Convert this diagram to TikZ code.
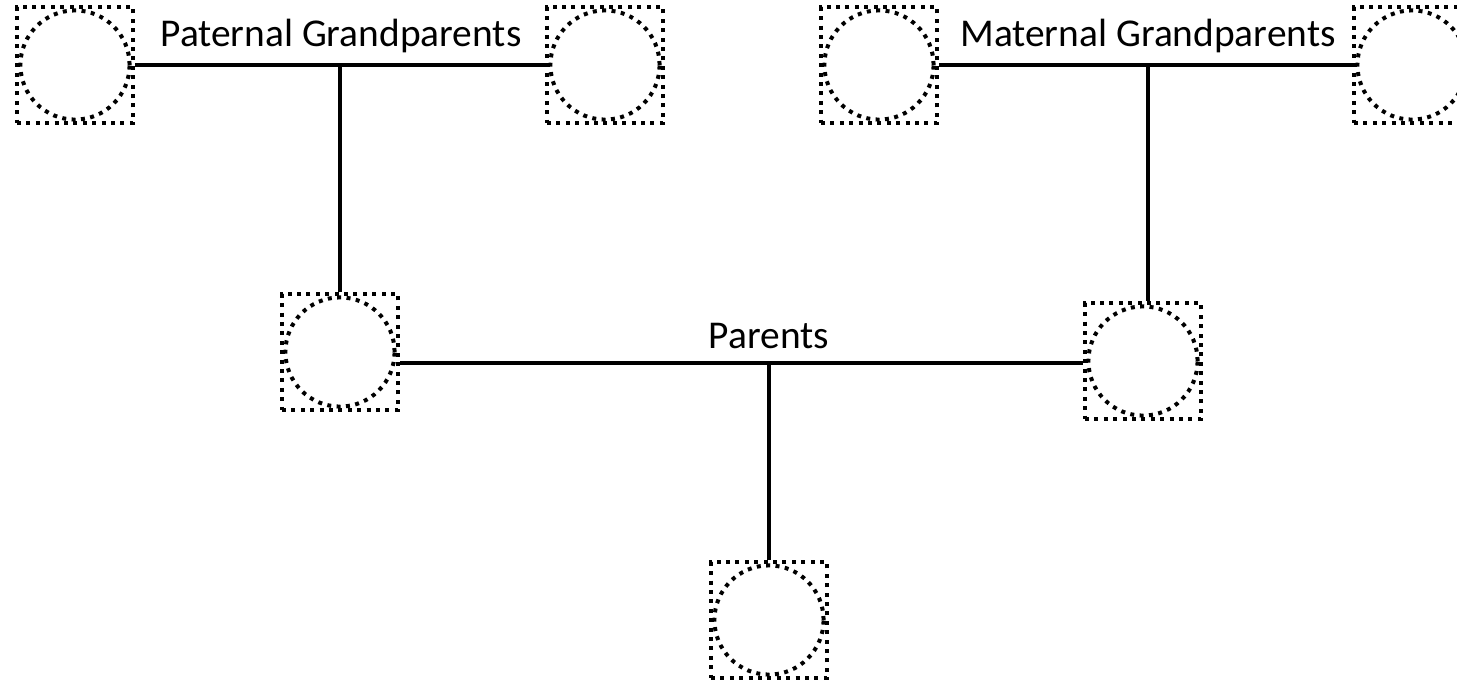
\documentclass[tikz,border=0pt]{standalone}
\usepackage{fontspec}
\setmainfont{Carlito}
\tikzset{
  person/.style={draw, line width=2pt, dash pattern=on 2pt off 2.7pt,
    minimum size=58pt, inner sep=0pt,
    path picture={\draw[line width=2pt, dash pattern=on 2pt off 2.7pt]
      (path picture bounding box.center) circle (27.3pt);}},
  link/.style={line width=2pt},
  tag/.style={font=\fontsize{19.7}{22}\selectfont, inner sep=0pt}
}
\begin{document}
\begin{tikzpicture}[x=0.5pt,y=-0.5pt]
  \useasboundingbox (0,0) rectangle (1457,681);
  % grandparents
  \node[person] (pgf) at (75,65) {};
  \node[person] (pgm) at (605,65) {};
  \node[person] (mgf) at (879,65) {};
  \node[person] (mgm) at (1412,65) {};
  % parents and child
  \node[person] (dad) at (340,352) {};
  \node[person] (mom) at (1143,361) {};
  \node[person] (kid) at (769,620) {};
  % labels
  \node[tag] (ptag) at (341,36) {Paternal Grandparents};
  \node[tag] (mtag) at (1148,36) {Maternal Grandparents};
  \node[tag] (ctag) at (769,336) {Parents};
  % links
  \coordinate (plink) at (340,65);
  \coordinate (mlink) at (1148,65);
  \coordinate (clink) at (769,363);
  \draw[link] (pgf.east) -- (pgm.west);
  \draw[link] (plink) -- (plink |- dad.north);
  \draw[link] (mgf.east) -- (mgm.west);
  \draw[link] (mlink) -- (mlink |- mom.north);
  \draw[link] (dad.east |- clink) -- (mom.west |- clink);
  \draw[link] (clink) -- (kid.north);
\end{tikzpicture}
\end{document}
